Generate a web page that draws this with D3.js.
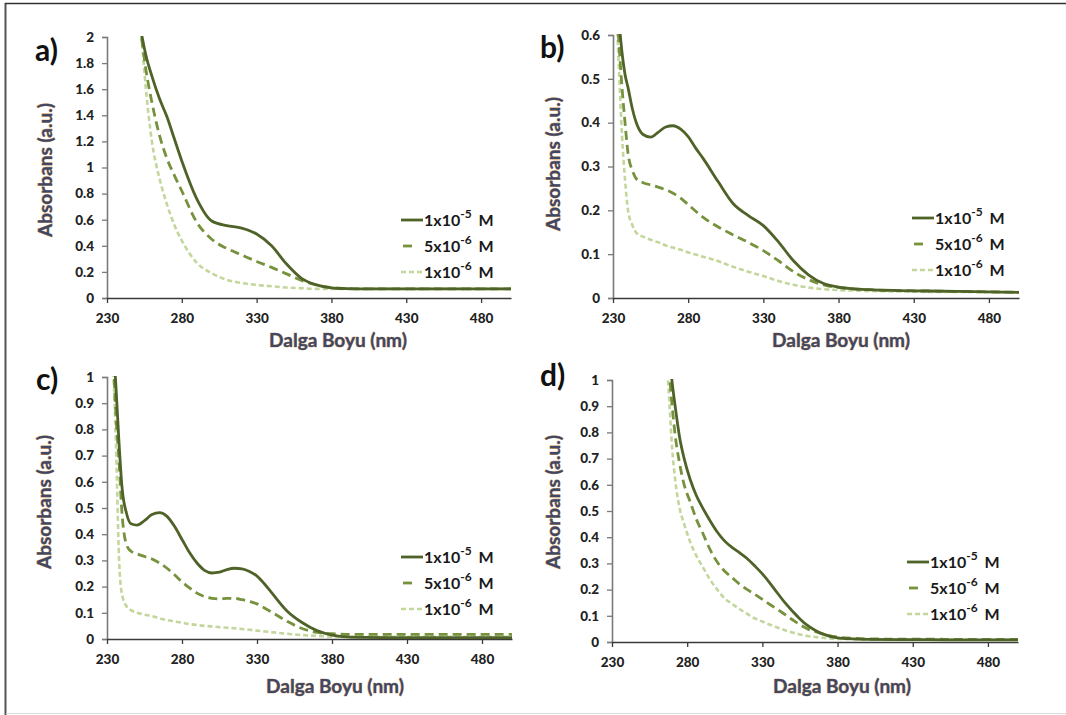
<!DOCTYPE html>
<html><head><meta charset="utf-8">
<script src="https://cdn.jsdelivr.net/npm/d3@7"></script>
<style>
body{margin:0;background:#fff}
svg text{font-family:Lato,"Open Sans",sans-serif;font-weight:bold}
</style>
</head><body>
<svg id="chart" width="1066" height="715"></svg>
<script>
// ---------- DATA ----------
const seriesLabels = [["1x10","-5"," M"],["5x10","-6"," M"],["1x10","-6"," M"]];
const xTicks = [230,280,330,380,430,480];

const waveA = [250,253,256,260,265,270,275,280,290,300,310,320,330,340,350,360,370,380,390,400,420,440,460,480,500];
const absA_1e5 = [2.25,2.03,1.86,1.70,1.53,1.39,1.22,1.05,0.76,0.59,0.555,0.535,0.49,0.40,0.26,0.15,0.10,0.078,0.072,0.07,0.07,0.07,0.07,0.07,0.07];
const absA_5e6 = [2.2,2.0,1.75,1.5,1.25,1.07,0.94,0.82,0.58,0.45,0.38,0.33,0.28,0.235,0.185,0.135,0.10,0.08,0.072,0.07,0.07,0.07,0.07,0.07,0.07];
const absA_1e6 = [2.25,2.0,1.6,1.2,0.92,0.72,0.56,0.44,0.27,0.19,0.14,0.115,0.10,0.09,0.08,0.075,0.07,0.07,0.07,0.07,0.07,0.07,0.07,0.07,0.07];
const yTicksA = [0,0.2,0.4,0.6,0.8,1,1.2,1.4,1.6,1.8,2];

const waveB = [232,234,236,238,240,243,246,250,255,260,265,270,275,280,285,290,300,310,320,330,340,350,360,370,380,390,400,420,440,460,480,500];
const absB_1e5 = [0.7,0.63,0.56,0.51,0.48,0.43,0.395,0.373,0.367,0.378,0.39,0.393,0.385,0.368,0.342,0.318,0.265,0.215,0.188,0.165,0.128,0.085,0.053,0.033,0.025,0.021,0.019,0.017,0.016,0.015,0.014,0.013];
const absB_5e6 = [0.7,0.58,0.48,0.40,0.33,0.29,0.27,0.263,0.258,0.253,0.247,0.239,0.228,0.213,0.198,0.184,0.162,0.144,0.127,0.108,0.085,0.06,0.042,0.03,0.024,0.021,0.019,0.017,0.016,0.015,0.014,0.013];
const absB_1e6 = [0.68,0.52,0.37,0.27,0.2,0.165,0.147,0.14,0.133,0.127,0.12,0.115,0.11,0.104,0.099,0.094,0.084,0.071,0.06,0.05,0.039,0.03,0.024,0.02,0.018,0.017,0.016,0.015,0.014,0.014,0.013,0.013];
const yTicksB = [0,0.1,0.2,0.3,0.4,0.5,0.6];

const waveC = [234,236,238,240,243,246,250,255,260,265,270,275,280,285,290,295,300,305,310,315,320,325,330,335,340,350,360,370,380,390,400,420,440,460,480,500];
const absC_1e5 = [1.15,0.96,0.75,0.58,0.48,0.44,0.435,0.452,0.475,0.482,0.468,0.43,0.38,0.33,0.29,0.262,0.252,0.255,0.265,0.27,0.268,0.258,0.24,0.21,0.175,0.107,0.063,0.032,0.015,0.008,0.006,0.005,0.005,0.005,0.005,0.005];
const absC_5e6 = [1.1,0.85,0.68,0.48,0.36,0.335,0.325,0.315,0.305,0.29,0.27,0.245,0.218,0.195,0.175,0.162,0.155,0.153,0.155,0.155,0.15,0.143,0.134,0.118,0.102,0.068,0.04,0.025,0.02,0.018,0.018,0.018,0.018,0.018,0.018,0.018];
const absC_1e6 = [1.05,0.74,0.31,0.17,0.125,0.11,0.1,0.093,0.087,0.079,0.072,0.067,0.062,0.057,0.053,0.05,0.048,0.045,0.043,0.041,0.038,0.035,0.032,0.029,0.026,0.02,0.015,0.012,0.009,0.008,0.008,0.008,0.008,0.008,0.008,0.008];
const yTicksC = [0,0.1,0.2,0.3,0.4,0.5,0.6,0.7,0.8,0.9,1];

const waveD = [266,268,270,272,275,278,282,286,290,295,300,305,310,315,320,325,330,335,340,345,350,355,360,365,370,380,390,400,420,440,460,480,500];
const absD_1e5 = [1.2,1.1,0.99,0.9,0.78,0.70,0.62,0.56,0.515,0.465,0.42,0.385,0.36,0.34,0.318,0.29,0.26,0.225,0.187,0.15,0.118,0.088,0.063,0.045,0.031,0.016,0.012,0.01,0.009,0.009,0.008,0.008,0.008];
const absD_5e6 = [1.15,1.03,0.9,0.79,0.68,0.6,0.535,0.47,0.42,0.355,0.305,0.27,0.245,0.22,0.2,0.182,0.163,0.143,0.125,0.105,0.085,0.066,0.05,0.04,0.031,0.019,0.014,0.012,0.011,0.011,0.01,0.01,0.01];
const absD_1e6 = [1.12,0.93,0.74,0.62,0.51,0.45,0.382,0.33,0.29,0.24,0.2,0.166,0.145,0.125,0.107,0.09,0.078,0.066,0.055,0.045,0.036,0.029,0.023,0.019,0.016,0.012,0.01,0.009,0.008,0.008,0.008,0.008,0.008];
const yTicksD = [0,0.1,0.2,0.3,0.4,0.5,0.6,0.7,0.8,0.9,1];

// ---------- STYLE / LAYOUT ----------
const seriesStyles = [
  {color:"#4f6228", width:2.8, dash:null},
  {color:"#76923c", width:2.8, dash:"9,5"},
  {color:"#c3d69b", width:2.6, dash:"5,3"}
];
const panels = [
  {label:"a)", wave:waveA, ys:[absA_1e5,absA_5e6,absA_1e6], yMax:2,   yTicks:yTicksA, left:107, right:511, top:37,  bottom:298, lab:[35,61], leg:[401,220], yt:[47,170], xt:[338,342]},
  {label:"b)", wave:waveB, ys:[absB_1e5,absB_5e6,absB_1e6], yMax:0.6, yTicks:yTicksB, left:613, right:1019,top:35,  bottom:298, lab:[540,58], leg:[912,218], yt:[555,164], xt:[841,342]},
  {label:"c)", wave:waveC, ys:[absC_1e5,absC_5e6,absC_1e6], yMax:1,   yTicks:yTicksC, left:107, right:512, top:377, bottom:639, lab:[36,390], leg:[401,557], yt:[46,502], xt:[335,688]},
  {label:"d)", wave:waveD, ys:[absD_1e5,absD_5e6,absD_1e6], yMax:1,   yTicks:yTicksD, left:612, right:1018,top:380, bottom:642, lab:[540,386], leg:[907,562], yt:[555,502], xt:[842,688]}
];

const svg = d3.select("#chart");

// frame
svg.append("line").attr("x1",5.5).attr("x2",5.5).attr("y1",3).attr("y2",715).attr("stroke","#555").attr("stroke-width",2);
svg.append("line").attr("x1",5).attr("x2",1066).attr("y1",3.5).attr("y2",3.5).attr("stroke","#333").attr("stroke-width",1.5);
svg.append("line").attr("x1",6).attr("x2",1066).attr("y1",713.5).attr("y2",713.5).attr("stroke","#ddd").attr("stroke-width",1);

panels.forEach((p,pi) => {
  const x = d3.scaleLinear().domain([230,500]).range([p.left,p.right]);
  const y = d3.scaleLinear().domain([0,p.yMax]).range([p.bottom,p.top]);
  const g = svg.append("g");

  const clipId = "clip"+pi;
  g.append("clipPath").attr("id",clipId).append("rect")
    .attr("x",p.left).attr("y",p.top-1).attr("width",p.right-p.left).attr("height",p.bottom-p.top+1);

  // y axis
  const ya = g.append("g").attr("transform",`translate(${p.left},0)`)
    .call(d3.axisLeft(y).tickValues(p.yTicks).tickSize(5).tickPadding(8).tickFormat(d3.format("~g")));
  ya.select(".domain").attr("stroke","#7a7a7a").attr("stroke-width",1.6);
  ya.selectAll(".tick line").attr("stroke","#7a7a7a").attr("stroke-width",1.3);
  ya.selectAll("text").attr("font-size",13.5).attr("fill","#222").style("font-family","Lato,sans-serif").style("font-weight","900");

  // x axis
  const xa = g.append("g").attr("transform",`translate(0,${p.bottom})`)
    .call(d3.axisBottom(x).tickValues(xTicks).tickSize(5).tickPadding(10).tickSizeOuter(0));
  xa.select(".domain").attr("stroke","#3a3a3a").attr("stroke-width",1.6);
  xa.selectAll(".tick line").attr("stroke","#3a3a3a").attr("stroke-width",1.3);
  xa.selectAll("text").attr("font-size",13.5).attr("fill","#222").style("font-family","Lato,sans-serif").style("font-weight","900");

  // lines (draw light first)
  [2,1,0].forEach(si => {
    const st = seriesStyles[si];
    g.append("path").datum(p.ys[si])
      .attr("clip-path",`url(#${clipId})`)
      .attr("d", d3.line().x((d,i)=>x(p.wave[i])).y(d=>y(d)).curve(d3.curveMonotoneX))
      .attr("fill","none").attr("stroke",st.color).attr("stroke-width",st.width)
      .attr("stroke-dasharray",st.dash);
  });

  // panel label
  g.append("text").attr("x",p.lab[0]).attr("y",p.lab[1]).text(p.label)
    .attr("font-size",30).attr("fill","#111");

  // axis titles
  const titleStyle = s => s.attr("fill","#3d4766").attr("stroke","#c98a45").attr("stroke-width",0.7)
     .attr("paint-order","stroke").attr("font-size",19).attr("text-anchor","middle").attr("dominant-baseline","middle");
  g.append("text").attr("transform",`translate(${p.yt[0]},${p.yt[1]}) rotate(-90)`).text("Absorbans (a.u.)").call(titleStyle);
  g.append("text").attr("x",p.xt[0]).attr("y",p.xt[1]).text("Dalga Boyu (nm)").call(titleStyle);

  // legend
  seriesLabels.forEach((lab,si) => {
    const st = seriesStyles[si];
    const ly = p.leg[1] + si*26;
    const lx = p.leg[0];
    if (si === 1) {
      g.append("line").attr("x1",lx+2).attr("x2",lx+11).attr("y1",ly).attr("y2",ly)
        .attr("stroke",st.color).attr("stroke-width",st.width);
    } else {
      g.append("line").attr("x1",lx).attr("x2",lx+22).attr("y1",ly).attr("y2",ly)
        .attr("stroke",st.color).attr("stroke-width",st.width).attr("stroke-dasharray",st.dash);
    }
    const t = g.append("text").attr("x",lx+23).attr("y",ly+6).attr("font-size",16).attr("fill","#1a1a1a");
    t.append("tspan").text(lab[0]);
    t.append("tspan").text(lab[1]).attr("font-size",12).attr("dy",-8);
    t.append("tspan").text(lab[2]).attr("dy",8).attr("dx",3);
  });
});
</script>
</body></html>
